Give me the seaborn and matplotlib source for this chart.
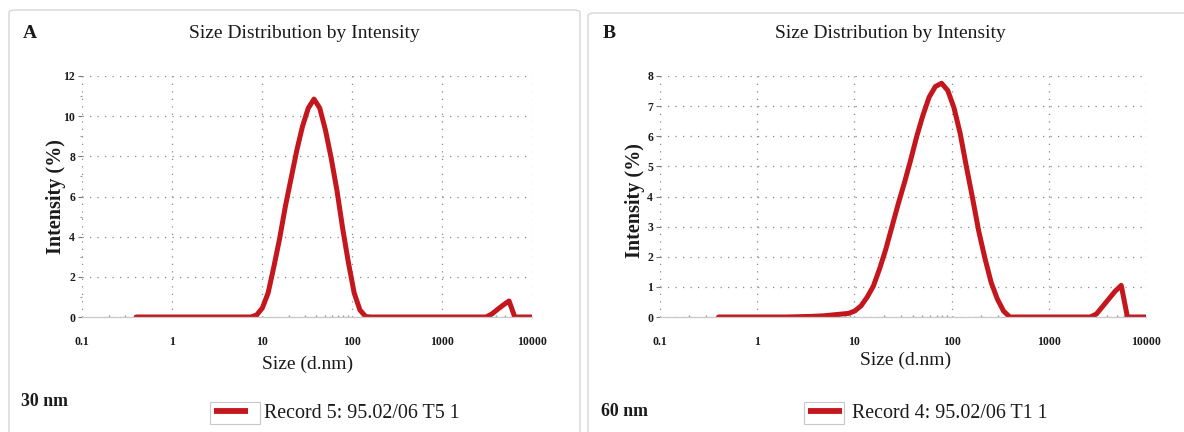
import numpy as np
import pandas as pd
import matplotlib
matplotlib.use("Agg")
import matplotlib.pyplot as plt
import seaborn as sns
from matplotlib.patches import FancyBboxPatch, Rectangle

# size bins (d.nm), shared by both records
sizes = [0.4, 0.4632, 0.5365, 0.6213, 0.7195, 0.8332, 0.9649, 1.117, 1.294, 1.499,
         1.736, 2.010, 2.328, 2.696, 3.122, 3.615, 4.187, 4.849, 5.615, 6.503,
         7.531, 8.721, 10.10, 11.70, 13.54, 15.69, 18.17, 21.04, 24.36, 28.21,
         32.67, 37.84, 43.82, 50.75, 58.77, 68.06, 78.82, 91.28, 105.7, 122.4,
         141.8, 164.2, 190.1, 220.2, 255.0, 295.3, 342.0, 396.1, 458.7, 531.2,
         615.1, 712.4, 825.0, 955.4, 1106, 1281, 1484, 1718, 1990, 2305,
         2669, 3091, 3580, 4145, 4801, 5560, 6439, 7456, 8635, 10000]

# Record 5 (30 nm)
intensity_a = [0, 0, 0, 0, 0, 0, 0, 0, 0, 0,
               0, 0, 0, 0, 0, 0, 0, 0, 0, 0,
               0, 0.1, 0.45, 1.2, 2.5, 3.9, 5.5, 6.9, 8.3, 9.5,
               10.4, 10.85, 10.4, 9.3, 7.9, 6.3, 4.4, 2.7, 1.2, 0.35,
               0.02, 0, 0, 0, 0, 0, 0, 0, 0, 0,
               0, 0, 0, 0, 0, 0, 0, 0, 0, 0,
               0, 0, 0.15, 0.38, 0.6, 0.8, 0, 0, 0, 0]

# Record 4 (60 nm)
intensity_b = [0, 0, 0, 0, 0, 0, 0, 0, 0, 0,
               0, 0, 0.005, 0.01, 0.015, 0.02, 0.03, 0.04, 0.06, 0.08,
               0.1, 0.12, 0.2, 0.37, 0.66, 1.03, 1.6, 2.25, 3.0, 3.75,
               4.45, 5.2, 6.0, 6.7, 7.3, 7.65, 7.76, 7.52, 6.95, 6.1,
               5.0, 3.95, 2.85, 1.95, 1.15, 0.6, 0.2, 0, 0, 0,
               0, 0, 0, 0, 0, 0, 0, 0, 0, 0,
               0, 0.1, 0.35, 0.6, 0.85, 1.05, 0, 0, 0, 0]

x_ticks = [0.1, 1, 10, 100, 1000, 10000]
x_ticklabels = ["0.1", "1", "10", "100", "1000", "10000"]
yticks_a = [0, 2, 4, 6, 8, 10, 12]
yticks_b = [0, 1, 2, 3, 4, 5, 6, 7, 8]

panel_letters = ["A", "B"]
panel_sizes = ["30 nm", "60 nm"]
record_labels = ["Record 5: 95.02/06 T5 1", "Record 4: 95.02/06 T1 1"]
title = "Size Distribution by Intensity"

sns.set_theme(style="white")
plt.rcParams["font.family"] = ["Liberation Serif", "DejaVu Serif"]

RED = "#c3161d"
INK = "#1a1a1a"
W, H = 1184, 432

fig = plt.figure(figsize=(W / 100, H / 100), dpi=100)


def fx(px):
    return px / W


def fy(py):
    return 1 - py / H


# panel frames
for x0, x1, y0 in [(9, 580, 10), (588, 1200, 13)]:
    fig.patches.append(FancyBboxPatch((fx(x0), fy(445)), fx(x1 - x0), (445 - y0) / H,
                                      boxstyle="round,pad=0,rounding_size=0.006",
                                      transform=fig.transFigure, fill=False,
                                      edgecolor="#d6d6d6", lw=1.0))

panels = [
    dict(rect=[fx(82), fy(317), fx(532 - 82), (317 - 76) / H], y=intensity_a, ymax=12,
         yticks=yticks_a, yminor=[1, 3, 5, 7, 9, 11], title_x=304, letter_x=23,
         ylab=(-0.058, 0.5), xlab=(0.502, -0.195), size_xy=(21, 401),
         leg_x=214, textpad=0.8, box=(210, 260)),
    dict(rect=[fx(660), fy(317), fx(1146 - 660), (317 - 76) / H], y=intensity_b, ymax=8,
         yticks=yticks_b, yminor=[], title_x=890, letter_x=603,
         ylab=(-0.052, 0.485), xlab=(0.506, -0.178), size_xy=(601, 411),
         leg_x=808, textpad=0.5, box=(804, 844)),
]

for i, p in enumerate(panels):
    ax = fig.add_axes(p["rect"])
    df = pd.DataFrame({"Size (d.nm)": sizes, "Intensity (%)": p["y"]})
    sns.lineplot(data=df, x="Size (d.nm)", y="Intensity (%)", ax=ax, color=RED,
                 lw=3.6, solid_capstyle="round", solid_joinstyle="round",
                 label=record_labels[i], legend=False)
    ax.set_xscale("log")
    ax.set_xlim(0.1, 10000)
    ax.set_ylim(0, p["ymax"])
    ax.set_xticks(x_ticks)
    ax.set_xticklabels(x_ticklabels)
    ax.set_yticks(p["yticks"])
    ax.set_yticks(p["yminor"], minor=True)
    ax.xaxis.set_minor_locator(matplotlib.ticker.LogLocator(base=10, subs=np.arange(2, 10)))
    ax.xaxis.set_minor_formatter(matplotlib.ticker.NullFormatter())
    ax.grid(True, which="major", color="#8a8a8a", lw=0.9, linestyle=(0, (1, 5)))
    for s in ["top", "right", "left"]:
        ax.spines[s].set_visible(False)
    ax.spines["bottom"].set_color("#c8c8c8")
    ax.spines["bottom"].set_linewidth(0.9)
    ax.tick_params(axis="y", which="major", left=True, length=3, width=0.8, color="#777777",
                   pad=2, labelsize=8.5, labelcolor=INK)
    ax.tick_params(axis="y", which="minor", left=True, length=1.5, width=0.8, color="#999999")
    ax.tick_params(axis="x", which="major", bottom=False, length=0, pad=14, labelsize=8.5,
                   labelcolor=INK)
    ax.tick_params(axis="x", which="minor", bottom=True, direction="in", length=1.5,
                   width=1.0, color="#999999")
    for lab in ax.get_xticklabels() + ax.get_yticklabels():
        lab.set_fontweight("bold")
    ax.set_xlabel("Size (d.nm)", fontsize=14, color=INK)
    ax.xaxis.set_label_coords(*p["xlab"])
    ax.xaxis.label.set_va("center")
    ax.set_ylabel("Intensity (%)", fontsize=14.5, fontweight="bold", color=INK)
    ax.yaxis.set_label_coords(*p["ylab"])
    ax.yaxis.label.set_va("center")

    fig.text(fx(p["title_x"]), fy(33), title, ha="center", va="center", fontsize=14, color=INK)
    fig.text(fx(p["letter_x"]), fy(34), panel_letters[i], ha="left", va="center",
             fontsize=14, fontweight="bold", color=INK)
    fig.text(fx(p["size_xy"][0]), fy(p["size_xy"][1]), panel_sizes[i], ha="left", va="center",
             fontsize=12.8, fontweight="bold", color=INK)

    # legend: handle sits in a small box, label outside it
    leg = fig.legend(handles=ax.get_lines()[:1], labels=[record_labels[i]],
                     loc="center left", bbox_to_anchor=(fx(p["leg_x"]), fy(413)),
                     frameon=False, fontsize=14.4, handlelength=1.7,
                     handletextpad=p["textpad"], borderpad=0, borderaxespad=0)
    for t in leg.get_texts():
        t.set_color(INK)
    for ln in leg.get_lines():
        ln.set_solid_capstyle("butt")
        ln.set_linewidth(4.2)
    b0, b1 = p["box"]
    fig.patches.append(Rectangle((fx(b0), fy(424)), fx(b1 - b0), 22 / H,
                                 transform=fig.transFigure, fill=False,
                                 edgecolor="#c8c8c8", lw=0.8))

fig.savefig("out.png", dpi=100, facecolor="white")
